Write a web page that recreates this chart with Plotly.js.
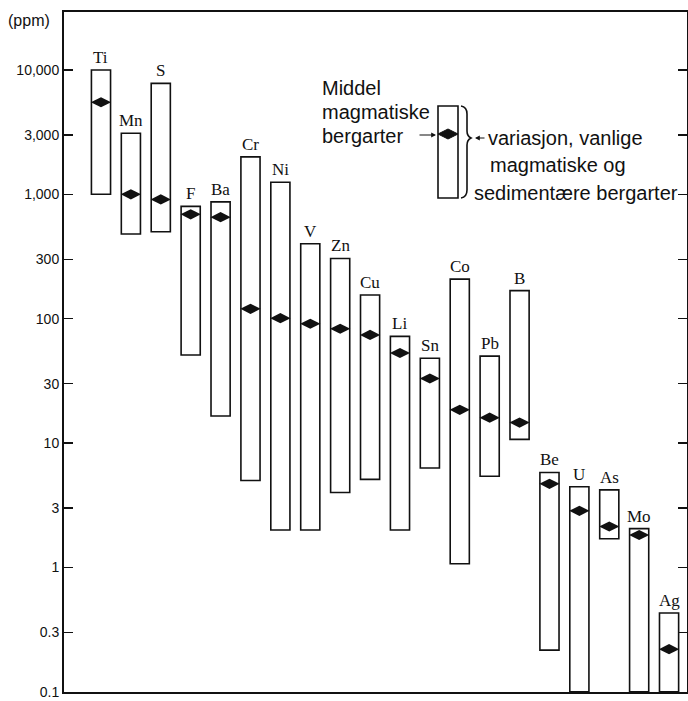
<!DOCTYPE html>
<html>
<head>
<meta charset="utf-8">
<script src="https://cdn.plot.ly/plotly-3.0.1.min.js"></script>
<style>html,body{margin:0;padding:0;background:#fff;}#chart{width:688px;height:701px;}</style>
</head>
<body>
<div id="chart"></div>
<script>
// ---- data (ppm) ----
const elements = ['Ti','Mn','S','F','Ba','Cr','Ni','V','Zn','Cu','Li','Sn','Co','Pb','B','Be','U','As','Mo','Ag'];
const maxPpm  = [10000, 3100, 7800, 800, 870, 2000, 1250, 400, 305, 155, 72, 48, 208, 50, 168, 5.8, 4.45, 4.2, 2.05, 0.43];
const minPpm  = [1000, 480, 500, 51, 16.5, 5, 2, 2, 4, 5.1, 2, 6.3, 1.07, 5.4, 10.7, 0.216, 0.1, 1.7, 0.1, 0.1];
const meanPpm = [5500, 1000, 910, 690, 655, 120, 101, 91, 83, 74, 53, 33, 18.5, 16, 14.6, 4.7, 2.85, 2.13, 1.82, 0.22];
const tickVals = [0.1, 0.3, 1, 3, 10, 30, 100, 300, 1000, 3000, 10000];
const tickText = ['0.1', '0.3', '1', '3', '10', '30', '100', '300', '1,000', '3,000', '10,000'];

const W = 688, H = 701;
const M = {l: 64, r: 1, t: 12, b: 9};
const pw = W - M.l - M.r, ph = H - M.t - M.b;
const PX = px => (px - M.l) / pw;
const PY = py => (H - M.b - py) / ph;

const sans = 'Liberation Sans, Arial, sans-serif';
const serif = 'Liberation Serif, Times New Roman, serif';
const ink = '#111';

const bars = {
  type: 'bar', x: elements,
  base: minPpm,
  y: maxPpm.map((v, i) => v - minPpm[i]),
  width: 0.64,
  marker: {color: 'rgba(255,255,255,1)', line: {color: ink, width: 1.6}},
  hoverinfo: 'skip'
};
const means = {
  type: 'scatter', mode: 'markers', x: elements, y: meanPpm,
  marker: {symbol: 'diamond-wide', size: 14.5, color: ink, line: {width: 0}},
  hoverinfo: 'skip'
};

const annotations = elements.map((e, i) => ({
  x: e, y: Math.log10(maxPpm[i]), xref: 'x', yref: 'y',
  text: e, showarrow: false, yanchor: 'bottom', yshift: 1,
  font: {family: serif, size: 17, color: ink}
}));

function txt(t, px, py, anchor, size) {
  return {xref: 'paper', yref: 'paper', x: PX(px), y: PY(py), text: t, showarrow: false,
    xanchor: anchor || 'left', yanchor: 'middle', font: {family: sans, size: size || 20, color: ink}};
}
annotations.push(txt('(ppm)', 6, 21, 'left', 16));
annotations.push(txt('Middel', 320, 88));
annotations.push(txt('magmatiske', 320, 112));
annotations.push(txt('bergarter', 320, 136));
annotations.push(txt('variasjon, vanlige', 486, 138));
annotations.push(txt('magmatiske og', 488, 165));
annotations.push(txt('sedimentære bergarter', 472, 193));
// arrows
annotations.push({xref: 'paper', yref: 'paper', x: PX(436), y: PY(135), ax: -18, ay: 0, text: '',
  showarrow: true, arrowhead: 2, arrowsize: 0.8, arrowwidth: 1.2, arrowcolor: ink});
annotations.push({xref: 'paper', yref: 'paper', x: PX(475), y: PY(138), ax: 11, ay: 0, text: '',
  showarrow: true, arrowhead: 2, arrowsize: 0.8, arrowwidth: 1.2, arrowcolor: ink});

const bx0 = 438, bx1 = 458, by0 = 106, by1 = 198, dy = 134;
const shapes = [
  {type: 'rect', xref: 'paper', yref: 'paper', x0: PX(bx0), x1: PX(bx1), y0: PY(by1), y1: PY(by0),
    line: {color: ink, width: 1.6}, fillcolor: 'rgba(255,255,255,1)'},
  {type: 'path', xref: 'paper', yref: 'paper',
    path: `M${PX(bx0)},${PY(dy)} L${PX(448)},${PY(dy-5)} L${PX(bx1)},${PY(dy)} L${PX(448)},${PY(dy+5)} Z`,
    fillcolor: ink, line: {color: ink, width: 1}},
  {type: 'path', xref: 'paper', yref: 'paper',
    path: `M${PX(461)},${PY(106)} Q${PX(467)},${PY(107)} ${PX(467)},${PY(114)} L${PX(467)},${PY(131)} Q${PX(467)},${PY(136)} ${PX(471)},${PY(138)} Q${PX(467)},${PY(140)} ${PX(467)},${PY(145)} L${PX(467)},${PY(190)} Q${PX(467)},${PY(197)} ${PX(461)},${PY(198)}`,
    line: {color: ink, width: 1.6}}
];

const layout = {
  width: W, height: H, margin: M,
  paper_bgcolor: '#fff', plot_bgcolor: '#fff', showlegend: false,
  xaxis: {type: 'category', range: [-1.237, 19.6], showline: true, linecolor: ink, linewidth: 2,
    mirror: true, showgrid: false, zeroline: false, showticklabels: false, ticks: ''},
  yaxis: {type: 'log', range: [-1.002, 4.466], tickvals: tickVals, ticktext: tickText,
    ticks: 'inside', ticklen: 9, tickwidth: 1.4, tickcolor: ink,
    showline: true, linecolor: ink, linewidth: 2, mirror: 'ticks',
    showgrid: false, zeroline: false, ticklabeloverflow: 'allow',
    tickfont: {family: sans, size: 14, color: ink}},
  annotations: annotations,
  shapes: shapes
};

Plotly.newPlot('chart', [bars, means], layout, {staticPlot: true, displayModeBar: false});
</script>
</body>
</html>
